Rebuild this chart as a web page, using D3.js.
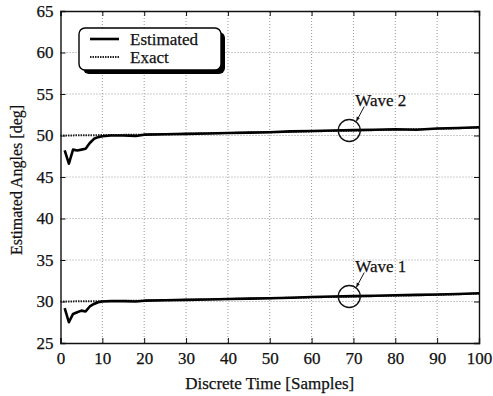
<!DOCTYPE html>
<html>
<head>
<meta charset="utf-8">
<script src="https://cdn.jsdelivr.net/npm/d3@7"></script>
<style>
  body { margin: 0; background: #fff; }
  .grid line { stroke: #999; stroke-dasharray: 1 2; stroke-width: 1; }
</style>
</head>
<body>
<div id="svg-container"></div>
<script>
////////////////////////////  Data  ////////////////////////////////
const xTicks = [0, 10, 20, 30, 40, 50, 60, 70, 80, 90, 100];
const yTicks = [25, 30, 35, 40, 45, 50, 55, 60, 65];

// estimated angle samples (time, deg)
const estTime = [1, 2, 3, 4, 5, 6, 7, 8, 9, 10, 12, 15, 18, 20, 25, 30, 35, 40, 45, 50, 55, 60, 65, 70, 75, 80, 85, 90, 95, 100];
const wave2Est = [48.2, 46.6, 48.3, 48.2, 48.3, 48.4, 49.1, 49.6, 49.8, 49.9, 50.0, 50.0, 49.95, 50.1, 50.15, 50.2, 50.25, 50.3, 50.35, 50.4, 50.5, 50.55, 50.6, 50.65, 50.7, 50.75, 50.7, 50.85, 50.9, 51.0];
const wave1Est = [29.2, 27.5, 28.5, 28.7, 28.9, 28.8, 29.4, 29.7, 29.9, 30.0, 30.05, 30.05, 30.0, 30.1, 30.15, 30.2, 30.25, 30.3, 30.35, 30.4, 30.45, 30.55, 30.6, 30.65, 30.7, 30.75, 30.8, 30.85, 30.9, 31.0];

// exact angles
const exactTime = [0, 10, 20, 30, 40, 50, 60, 70, 80, 90, 100];
const wave2Exact = [50.0, 50.05, 50.1, 50.2, 50.3, 50.4, 50.5, 50.6, 50.7, 50.8, 50.95];
const wave1Exact = [30.0, 30.05, 30.1, 30.2, 30.3, 30.4, 30.5, 30.6, 30.7, 30.8, 30.95];

// annotations: circled sample, label
const waveLabels = ["Wave 2", "Wave 1"];
const circleX = [69, 69];
const circleY = [50.6, 30.6];

////////////////////////////  Init  ////////////////////////////////
const width = 493, height = 396;
const margin = { top: 11, right: 14, bottom: 53, left: 60.5 };
const serif = '"Liberation Serif", "Times New Roman", serif';

const svg = d3.select("#svg-container").append("svg")
  .attr("width", width).attr("height", height);

const x = d3.scaleLinear().domain([0, 100]).range([margin.left, width - margin.right]);
const y = d3.scaleLinear().domain([25, 65]).range([height - margin.bottom, margin.top]);

// grid
const grid = svg.append("g").attr("class", "grid");
grid.selectAll(".gx").data(xTicks.slice(1, -1)).join("line")
  .attr("x1", d => x(d)).attr("x2", d => x(d))
  .attr("y1", y(25)).attr("y2", y(65));
grid.selectAll(".gy").data(yTicks.slice(1, -1)).join("line")
  .attr("class", "gy")
  .attr("x1", x(0)).attr("x2", x(100))
  .attr("y1", d => y(d)).attr("y2", d => y(d));

// axes (ticks inward)
svg.append("g").attr("transform", `translate(0,${y(25)})`)
  .call(d3.axisBottom(x).tickValues(xTicks).tickSize(-5).tickPadding(9));
svg.append("g").attr("transform", `translate(${x(0)},0)`)
  .call(d3.axisLeft(y).tickValues(yTicks).tickSize(-5).tickPadding(7));
svg.append("g").attr("transform", `translate(0,${y(65)})`)
  .call(d3.axisTop(x).tickValues(xTicks).tickSize(-5).tickFormat(""));
svg.append("g").attr("transform", `translate(${x(100)},0)`)
  .call(d3.axisRight(y).tickValues(yTicks).tickSize(-5).tickFormat(""));
svg.selectAll(".domain").attr("stroke", "#111").attr("stroke-width", 1.4);
svg.selectAll(".tick line").attr("stroke", "#111");
svg.selectAll(".tick text").style("font-size", "17px");

// lines
const line = d3.line().x(d => x(d[0])).y(d => y(d[1]));
const exactSeries = [wave2Exact, wave1Exact];
const estSeries = [wave2Est, wave1Est];

exactSeries.forEach(vals => {
  svg.append("path")
    .datum(exactTime.map((t, i) => [t, vals[i]]))
    .attr("d", line)
    .attr("fill", "none").attr("stroke", "#222")
    .attr("stroke-width", 2).attr("stroke-dasharray", "1.5 1");
});
estSeries.forEach(vals => {
  svg.append("path")
    .datum(estTime.map((t, i) => [t, vals[i]]))
    .attr("d", line)
    .attr("fill", "none").attr("stroke", "#000")
    .attr("stroke-width", 2.6).attr("stroke-linejoin", "round");
});

// wave annotations
waveLabels.forEach((lab, i) => {
  const cx = x(circleX[i]), cy = y(circleY[i]);
  svg.append("circle").attr("cx", cx).attr("cy", cy).attr("r", 11)
    .attr("fill", "none").attr("stroke", "#111").attr("stroke-width", 1.3);
  svg.append("line")
    .attr("x1", cx + 15).attr("y1", cy - 24)
    .attr("x2", cx + 7).attr("y2", cy - 9)
    .attr("stroke", "#111").attr("stroke-width", 1);
  svg.append("path")
    .attr("d", `M${cx + 7},${cy - 9} l0.5,-5 l3,1.8 z`)
    .attr("fill", "#111");
  svg.append("text").attr("x", cx + 6).attr("y", cy - 25)
    .style("font-size", "17px").text(lab);
});

// legend
const lg = svg.append("g").attr("transform", "translate(79,28)");
lg.append("rect").attr("x", 4).attr("y", 4).attr("width", 142).attr("height", 42)
  .attr("rx", 6).attr("fill", "#000");
lg.append("rect").attr("x", 0).attr("y", 0).attr("width", 142).attr("height", 42)
  .attr("rx", 6).attr("fill", "#fff").attr("stroke", "#000").attr("stroke-width", 1.4);
lg.append("line").attr("x1", 11).attr("x2", 40).attr("y1", 11).attr("y2", 11)
  .attr("stroke", "#000").attr("stroke-width", 2.6);
lg.append("line").attr("x1", 11).attr("x2", 40).attr("y1", 29).attr("y2", 29)
  .attr("stroke", "#222").attr("stroke-width", 2).attr("stroke-dasharray", "1.5 1");
lg.append("text").attr("x", 51).attr("y", 17).style("font-size", "17px").text("Estimated");
lg.append("text").attr("x", 51).attr("y", 35).style("font-size", "17px").text("Exact");

// axis labels
svg.append("text").attr("x", (x(0) + x(100)) / 2).attr("y", 389)
  .attr("text-anchor", "middle").style("font-size", "17px")
  .text("Discrete Time [Samples]");
svg.append("text")
  .attr("transform", `translate(22,${(y(25) + y(65)) / 2 + 3}) rotate(-90)`)
  .attr("text-anchor", "middle").style("font-size", "16px")
  .text("Estimated Angles [deg]");

// serif text, slightly heavy like the printed figure
svg.selectAll("text")
  .style("font-family", serif)
  .attr("fill", "#111")
  .attr("stroke", "#111").attr("stroke-width", 0.25);
</script>
</body>
</html>
